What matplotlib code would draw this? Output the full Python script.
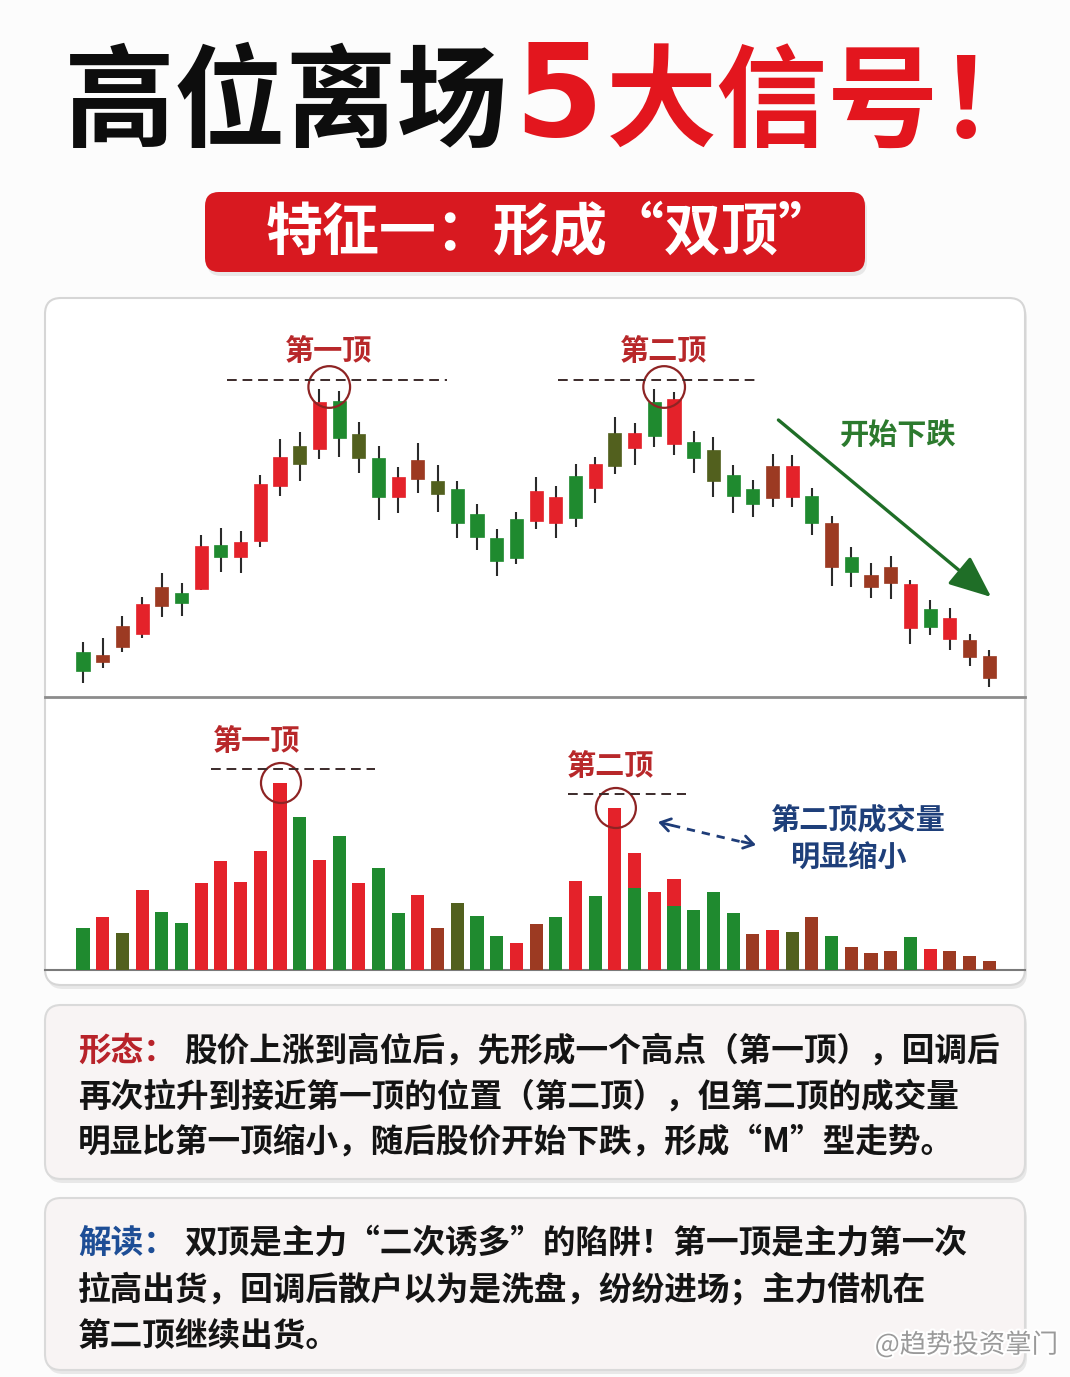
import matplotlib
matplotlib.use('Agg')
import matplotlib.pyplot as plt
import matplotlib.patheffects as pe
from matplotlib.patches import FancyBboxPatch
import numpy as np

plt.rcParams['font.family'] = ['Noto Sans CJK SC', 'DejaVu Sans']

# candle data (arbitrary price units), one entry per day
opens = [48, 38, 53, 66, 94, 107, 111, 155, 143, 159, 214, 236, 251, 299, 266, 242,
         203, 221, 219, 211, 186, 162, 142, 179, 203, 182, 236, 234, 267, 264, 301, 258,
         250, 225, 211, 202, 234, 204, 177, 143, 125, 117, 116, 73, 82, 60, 22]
highs = [58, 62, 84, 103, 127, 117, 165, 172, 169, 225, 261, 268, 311, 309, 278, 254,
         233, 257, 235, 219, 196, 171, 188, 223, 214, 236, 243, 283, 277, 311, 308, 269,
         263, 235, 220, 246, 245, 212, 184, 153, 137, 144, 120, 100, 92, 66, 50]
lows = [17, 32, 48, 62, 83, 84, 110, 128, 127, 153, 204, 219, 241, 243, 227, 180,
        187, 207, 188, 162, 150, 124, 136, 171, 162, 173, 197, 226, 235, 253, 245, 227,
        203, 187, 183, 193, 193, 165, 114, 113, 102, 101, 56, 65, 50, 34, 13]
closes = [29, 45, 74, 96, 113, 97, 154, 143, 158, 216, 243, 254, 298, 262, 242, 203,
          223, 240, 206, 177, 163, 139, 181, 209, 177, 224, 212, 267, 252, 298, 256, 242,
          219, 204, 196, 234, 203, 177, 133, 128, 113, 133, 72, 91, 61, 43, 44]
candle_colors = list('gbbrbgrgrrrorgogrboggggrrgrorgrgoggbrgbgbbrgrbbr')[:47]

volumes = [42, 53, 37, 80, 58, 47, 87, 109, 88, 119, 187, 153, 110, 134, 87, 102,
           57, 75, 42, 67, 54, 34, 27, 46, 53, 89, 74, 162, 117, 78, 91, 60,
           78, 57, 36, 40, 38, 53, 34, 23, 17, 19, 33, 21, 19, 14, 9]
volume_colors = list('grorggrrrrrgrgrggrboggrbgrgrmrmgggbrobgbbbgrbbb')

first_top = (12, 13)
second_top = (29, 30)
vol_first_top = 10
vol_second_top = 27

palette = {'r': '#e4222a', 'g': '#1f8a2f', 'b': '#9c3a22', 'o': '#52601e', 'm': '#1f8a2f'}

W, H = 1070, 1377
fig = plt.figure(figsize=(W / 100, H / 100), dpi=100)
fig.patch.set_facecolor('#fcfcfc')

bg = fig.add_axes([0, 0, 1, 1])
bg.set_xlim(0, W)
bg.set_ylim(H, 0)
bg.axis('off')


def box(x, y, w, h, fc, ec, r=16, lw=1.5, shadow=True):
    if shadow:
        bg.add_patch(FancyBboxPatch((x + 2, y + 4), w, h, boxstyle=f'round,pad=0,rounding_size={r}',
                                    fc='#00000014', ec='none', zorder=1))
    bg.add_patch(FancyBboxPatch((x, y), w, h, boxstyle=f'round,pad=0,rounding_size={r}',
                                fc=fc, ec=ec, lw=lw, zorder=2))


# title
bg.text(508, 106, '高位离场', fontsize=80, fontweight='black', color='#0d0d0d',
        ha='right', va='center', zorder=3)
bg.text(514, 100, '5', fontsize=92, fontweight='bold', family='DejaVu Sans', color='#e3161e',
        ha='left', va='center', zorder=3)
bg.text(606, 106, '大信号！', fontsize=80, fontweight='black', color='#e3161e',
        ha='left', va='center', zorder=3)

# banner
box(205, 192, 660, 80, '#d81920', 'none', r=14, lw=0)
bg.text(551, 233, '特征一：形成“双顶”', fontsize=41, fontweight='black', color='white',
        ha='center', va='center', zorder=3)

# chart panel
box(45, 298, 980, 687, 'white', '#d6d6d6')
bg.plot([45, 1025], [697, 697], color='#8c8c8c', lw=2, zorder=3)
bg.plot([45, 1025], [970, 970], color='#7a7a7a', lw=1.5, zorder=3)

# candle axes: day i sits at x = 83 + 19.7 * i pixels
step = 19.7
xl = ((45 - 83) / step, (1025 - 83) / step)
ax = fig.add_axes([45 / W, 1 - 697 / H, 980 / W, 397 / H])
ax.set_xlim(*xl)
ax.set_ylim(3, 400)
ax.axis('off')
ax.patch.set_alpha(0)

idx = np.arange(len(opens))
o = np.array(opens)
c = np.array(closes)
cols = [palette[k] for k in candle_colors]
ax.vlines(idx, lows, highs, color='#2a2a2a', lw=1.5, zorder=2)
ax.bar(idx, np.abs(c - o), bottom=np.minimum(o, c), width=0.66, color=cols,
       edgecolor=cols, lw=0.5, zorder=3)

dash = (0, (5, 3))
for pair, label, span in [(first_top, '第一顶', (-5.2, 6.0)), (second_top, '第二顶', (-5.4, 4.8))]:
    cx = sum(pair) / 2
    top = max(highs[pair[0]], highs[pair[1]])
    ax.scatter([cx], [top + 2], s=900, facecolors='none', edgecolors='#8e2424', lw=1.6, zorder=4)
    ax.hlines(top + 9, cx + span[0], cx + span[1], color='#3b2a2a', lw=1.4, linestyles=dash, zorder=4)
    ax.text(cx - 0.05, top + 38, label, fontsize=21, fontweight='black', color='#b8282a',
            ha='center', va='center')

ax.annotate('', xy=(46.1, 103), xytext=(35.3, 280),
            arrowprops=dict(arrowstyle='-|>,head_length=1.3,head_width=0.55', lw=2.4,
                            color='#1f6e27', mutation_scale=20, shrinkA=0, shrinkB=0))
bg.text(898, 435, '开始下跌', fontsize=21, fontweight='black', color='#2c7a2e',
        ha='center', va='center', zorder=5)

# volume axes
vx = fig.add_axes([45 / W, 1 - 970 / H, 980 / W, 270 / H])
vx.set_xlim(*xl)
vx.set_ylim(0, 270)
vx.axis('off')
vx.patch.set_alpha(0)
vcols = [palette[k] for k in volume_colors]
vx.bar(idx, volumes, width=0.66, color=vcols, zorder=3)
mixed = [i for i, k in enumerate(volume_colors) if k == 'm']
vx.bar(mixed, [volumes[i] * 0.3 for i in mixed], bottom=[volumes[i] * 0.7 for i in mixed],
       width=0.66, color=palette['r'], zorder=3)

for i, label, span in [(vol_first_top, '第一顶', (-3.5, 4.8)), (vol_second_top, '第二顶', (-2.4, 3.6))]:
    v = volumes[i]
    vx.scatter([i + 0.05], [v], s=830, facecolors='none', edgecolors='#8e2424', lw=1.6, zorder=4)
    vx.hlines(v + 14, i + span[0], i + span[1], color='#3b2a2a', lw=1.4, linestyles=dash, zorder=4)
    vx.text(i - 1.2 if i == vol_first_top else i - 0.2, v + 42, label, fontsize=21,
            fontweight='black', color='#b8282a', ha='center', va='center')

bg.plot([672, 742], [825.4, 842], color='#1e3c78', lw=2, ls=(0, (3, 2.5)), zorder=5)
bg.annotate('', xy=(658, 822), xytext=(672, 825.4),
            arrowprops=dict(arrowstyle='->,head_length=0.7,head_width=0.45', lw=2,
                            color='#1e3c78', shrinkA=0, shrinkB=0), zorder=5)
bg.annotate('', xy=(756, 845), xytext=(742, 841.6),
            arrowprops=dict(arrowstyle='->,head_length=0.7,head_width=0.45', lw=2,
                            color='#1e3c78', shrinkA=0, shrinkB=0), zorder=5)
bg.text(858, 819, '第二顶成交量', fontsize=21, fontweight='black', color='#1e3f7a',
        ha='center', va='center', zorder=5)
bg.text(849, 858, '明显缩小', fontsize=21, fontweight='black', color='#1e3f7a',
        ha='center', va='center', zorder=5)

# explanation boxes
box(45, 1005, 980, 174, '#f8f4f4', '#dadada')
box(45, 1198, 980, 172, '#f8f4f4', '#dadada')

fs = 23.5
body = dict(fontsize=fs, fontweight='bold', color='#141414', va='center', zorder=3)
bg.text(78, 1051, '形态：', fontsize=fs, fontweight='black', color='#b8232a', va='center', zorder=3)
bg.text(184, 1051, '股价上涨到高位后，先形成一个高点（第一顶），回调后', **body)
bg.text(78, 1097, '再次拉升到接近第一顶的位置（第二顶），但第二顶的成交量', **body)
bg.text(78, 1142, '明显比第一顶缩小，随后股价开始下跌，形成“M”型走势。', **body)

bg.text(78, 1243, '解读：', fontsize=fs, fontweight='black', color='#1e4e96', va='center', zorder=3)
bg.text(184, 1243, '双顶是主力“二次诱多”的陷阱！第一顶是主力第一次', **body)
bg.text(78, 1290, '拉高出货，回调后散户以为是洗盘，纷纷进场；主力借机在', **body)
bg.text(78, 1336, '第二顶继续出货。', **body)

bg.text(1058, 1345, '@趋势投资掌门', fontsize=19, color='#9a9a9a', ha='right', va='center', zorder=6,
        path_effects=[pe.withStroke(linewidth=3, foreground='white')])

fig.savefig('out.png', dpi=100, facecolor=fig.get_facecolor())
